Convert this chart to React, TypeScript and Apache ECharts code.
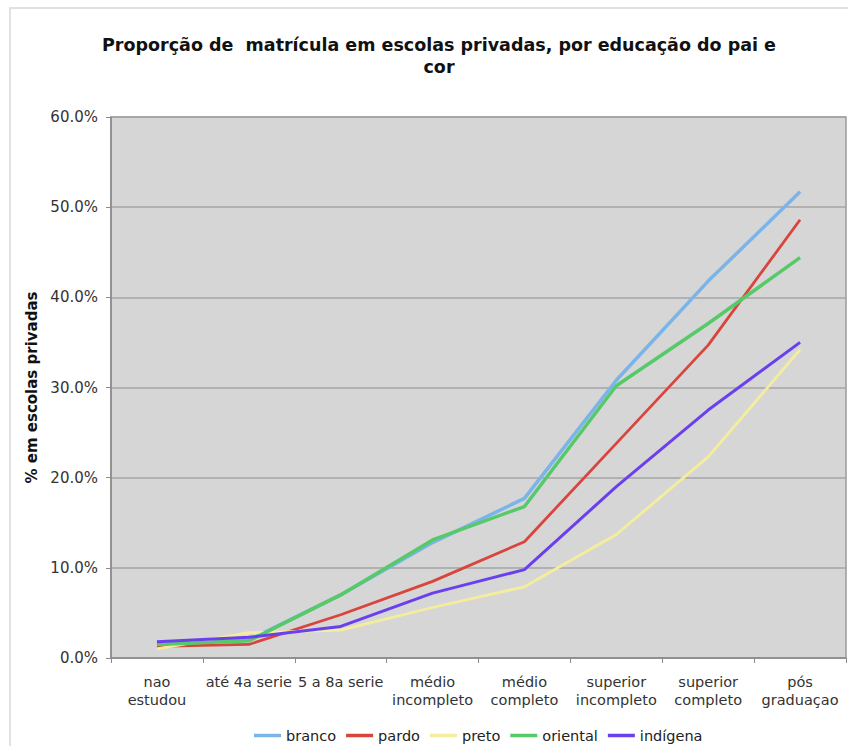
import React, { useEffect, useRef } from "react";
import * as echarts from "echarts";

const categories = [
  "nao\nestudou",
  "até 4a serie",
  "5 a 8a serie",
  "médio\nincompleto",
  "médio\ncompleto",
  "superior\nincompleto",
  "superior\ncompleto",
  "pós\ngraduaçao",
];

const seriesNames = ["branco", "pardo", "preto", "oriental", "indígena"];
const branco = [1.5, 2.0, 7.0, 12.8, 17.7, 30.8, 41.8, 51.7];
const pardo = [1.3, 1.5, 4.8, 8.5, 12.9, 23.8, 34.7, 48.6];
const preto = [1.0, 2.8, 3.1, 5.6, 7.9, 13.7, 22.3, 34.2];
const oriental = [1.5, 1.9, 7.0, 13.1, 16.8, 30.2, 37.1, 44.4];
const indigena = [1.8, 2.3, 3.5, 7.2, 9.8, 19.0, 27.5, 35.0];
const seriesColors = ["#7ab4e8", "#d9453c", "#f4ee9c", "#56c968", "#6a40ee"];
const seriesWidths = [3.5, 2.8, 2.8, 3.5, 3];

const FONT = "DejaVu Sans";

export default function App() {
  const ref = useRef<HTMLDivElement>(null);
  useEffect(() => {
    document.body.style.margin = "0";
    const chart = echarts.init(ref.current!, null, { renderer: "svg" });
    const values = [branco, pardo, preto, oriental, indigena];
    chart.setOption({
      animation: false,
      backgroundColor: "#ffffff",
      title: {
        text: "Proporção de  matrícula em escolas privadas, por educação do pai e\ncor",
        left: 434,
        textAlign: "center",
        top: 29,
        textStyle: {
          fontFamily: FONT,
          fontSize: 17.5,
          fontWeight: "bold",
          color: "#111",
          lineHeight: 22,
        },
      },
      graphic: [
        {
          type: "rect",
          shape: { x: 10, y: 8, width: 850, height: 760 },
          style: { fill: "none", stroke: "#d8d8d8", lineWidth: 1.5 },
          silent: true,
        },
      ],
      legend: {
        data: seriesNames,
        top: 728,
        left: 254,
        padding: 0,
        icon: "rect",
        itemWidth: 27,
        itemHeight: 3.5,
        itemGap: 10,
        textStyle: { fontFamily: FONT, fontSize: 14.5, color: "#222" },
      },
      grid: {
        left: 111,
        right: 2,
        top: 117,
        bottom: 88,
        show: true,
        backgroundColor: "#d6d6d6",
        borderColor: "#9a9a9a",
        borderWidth: 1.5,
      },
      xAxis: {
        type: "category",
        data: categories,
        boundaryGap: true,
        axisLine: { lineStyle: { color: "#8a8a8a", width: 1.5 } },
        axisTick: { show: true, length: 5, lineStyle: { color: "#8a8a8a" } },
        axisLabel: {
          interval: 0,
          fontFamily: FONT,
          fontSize: 14.5,
          color: "#333",
          lineHeight: 18,
          margin: 15,
        },
      },
      yAxis: {
        type: "value",
        min: 0,
        max: 60,
        interval: 10,
        name: "% em escolas privadas",
        nameLocation: "middle",
        nameRotate: 90,
        nameGap: 71,
        nameTextStyle: {
          fontFamily: FONT,
          fontSize: 15,
          fontWeight: "bold",
          color: "#111",
        },
        axisLine: { show: true, lineStyle: { color: "#8a8a8a", width: 1.5 } },
        axisTick: { show: true, length: 5, lineStyle: { color: "#8a8a8a" } },
        axisLabel: {
          fontFamily: FONT,
          fontSize: 15,
          color: "#333",
          margin: 13,
          formatter: (v: number) => v.toFixed(1) + "%",
        },
        splitLine: { lineStyle: { color: "#a4a4a4", width: 1.5 } },
      },
      series: seriesNames.map((name, i) => ({
        name,
        type: "line",
        data: values[i],
        symbol: "none",
        smooth: false,
        lineStyle: { width: seriesWidths[i], color: seriesColors[i] },
        itemStyle: { color: seriesColors[i] },
        z: 2 + i,
      })),
    });
    return () => chart.dispose();
  }, []);
  return <div ref={ref} style={{ width: 848, height: 746 }} />;
}
